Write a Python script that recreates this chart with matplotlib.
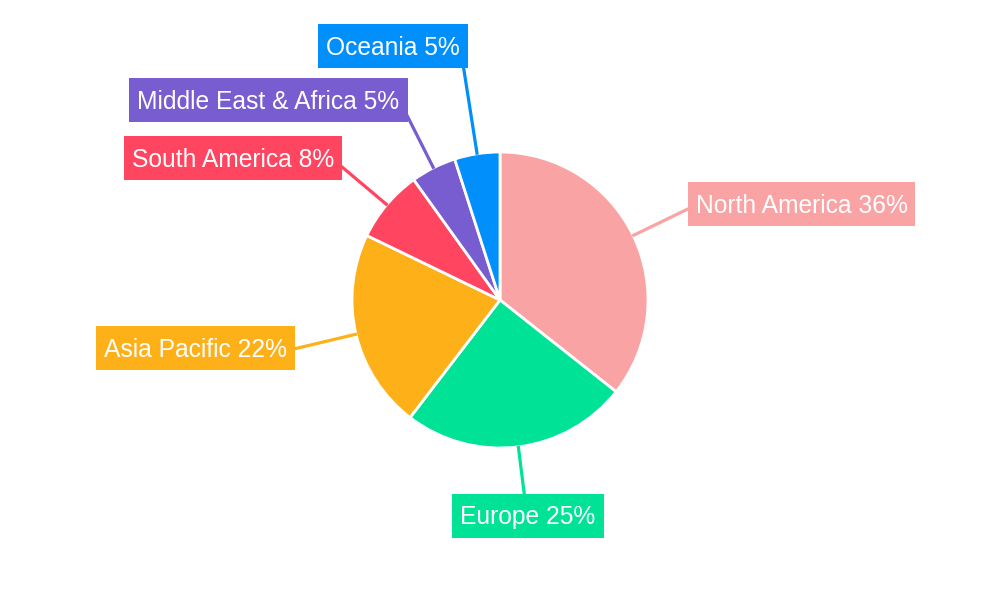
import numpy as np
import matplotlib
matplotlib.use("Agg")
import matplotlib.pyplot as plt
from matplotlib.patches import Rectangle

plt.rcParams["font.family"] = ["Liberation Sans", "DejaVu Sans"]

regions = ["North America", "Europe", "Asia Pacific", "South America",
           "Middle East & Africa", "Oceania"]
shares = [36, 25, 22, 8, 5, 5]
colors = ["#F9A3A4", "#00E396", "#FEB019", "#FF4560", "#775DD0", "#008FFB"]

# label box centres (offset from pie centre, px) and leader length
label_xy = [(301.5, 96), (28, -215.5), (-305, -48), (-267, 142),
            (-231.5, 200), (-107, 254)]
leader_len = [215, 215, 215, 215, 215, 240]

R = 148
FS = 17.7                 # pt == px * 0.72 at dpi 100
cap = 0.716 * FS / 0.72   # cap height in px
fig = plt.figure(figsize=(10, 6), dpi=100)
ax = fig.add_axes([0, 0, 1, 1])
ax.set_xlim(-500, 500)
ax.set_ylim(-300, 300)
ax.set_aspect("equal")
ax.axis("off")

wedges, _ = ax.pie(shares, colors=colors, radius=R, startangle=90,
                   counterclock=False,
                   wedgeprops=dict(edgecolor="white", linewidth=2))
ax.set_xlim(-500, 500)
ax.set_ylim(-300, 300)

total = sum(shares)
texts = []
for w, name, v, c, (lx, ly), L in zip(wedges, regions, shares, colors,
                                       label_xy, leader_len):
    mid = np.deg2rad((w.theta1 + w.theta2) / 2)
    d = np.array([np.cos(mid), np.sin(mid)])
    p0, p1 = d * (R - 1), d * L
    ax.plot([p0[0], p1[0]], [p0[1], p1[1]], color=c, lw=2.3,
            solid_capstyle="butt", zorder=1)
    t = ax.text(lx, ly - cap / 2, f"{name} {v / total * 100:.0f}%",
                color="white", fontsize=FS, ha="center", va="baseline",
                zorder=5)
    texts.append((t, lx, ly, c))

fig.canvas.draw()
for t, lx, ly, c in texts:
    wpx = t.get_window_extent().width + 16
    ax.add_patch(Rectangle((lx - wpx / 2, ly - 22), wpx, 44, fc=c,
                           ec="none", zorder=4))

fig.savefig("out.png", dpi=100, facecolor="white")
